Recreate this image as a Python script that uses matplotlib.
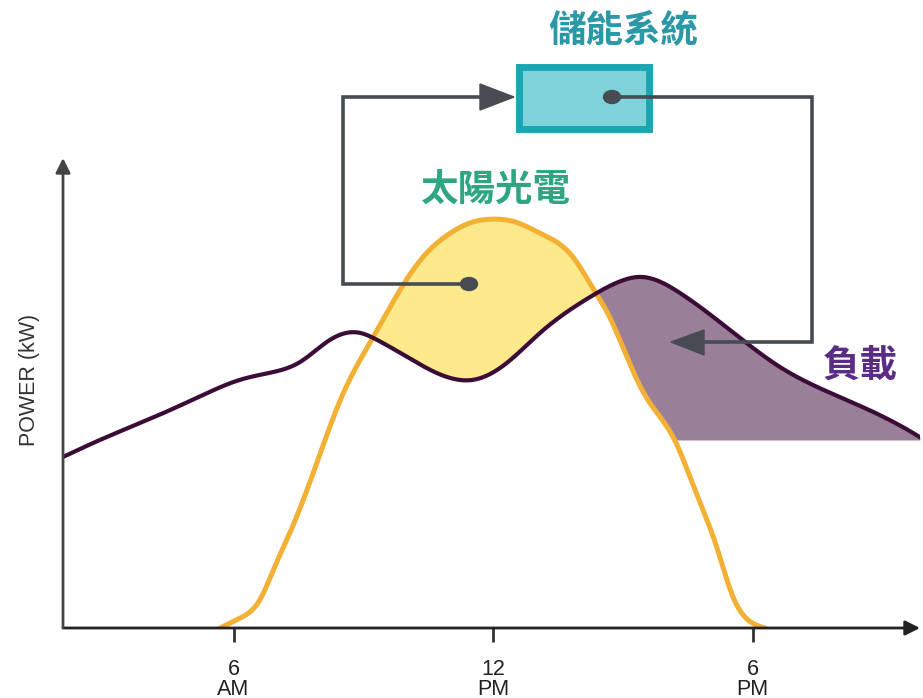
import numpy as np
import matplotlib
matplotlib.use("Agg")
import matplotlib.pyplot as plt
from matplotlib.patches import Rectangle, Polygon, Ellipse

plt.rcParams['font.family'] = ['Liberation Sans', 'DejaVu Sans']

# ---------------- data (hours of day, relative kW) ----------------
load_hours = [2.06, 2.91, 4.07, 5.23, 6.15, 6.84, 7.54, 8.23, 8.92, 9.32, 10.01, 11.01,
              11.54, 12.32, 13.09, 14.24, 15.01, 15.40, 16.32, 17.48, 18.64, 20.18, 21.71, 21.87]
load_kw = [36.4, 40.0, 44.5, 49.3, 52.8, 54.3, 56.6, 61.3, 62.8, 61.3, 57.7, 53.2,
           52.8, 56.4, 62.8, 70.4, 74.0, 74.7, 71.3, 63.4, 55.5, 48.5, 41.5, 40.6]

solar_hours = [5.69, 6.15, 6.61, 6.96, 7.31, 7.61, 8.00, 8.46, 9.23, 9.85, 10.38, 11.01,
               11.47, 12.00, 12.51, 13.09, 13.85, 14.31, 14.64, 15.05, 15.51, 16.21,
               16.62, 17.18, 17.55, 17.83, 18.29]
solar_kw = [0.0, 2.1, 6.0, 13.2, 20.4, 27.2, 37.0, 48.3, 61.9, 71.9, 78.9, 84.0,
            86.2, 87.0, 86.4, 84.0, 78.9, 72.3, 67.2, 58.7, 49.6, 39.8,
            30.6, 17.0, 6.6, 2.3, 0.0]

base_level = 40.0  # lower edge of the shaded load area

tick_hours = [6, 12, 18]
tick_labels = ["6\nAM", "12\nPM", "6\nPM"]

title_storage = "儲能系統"
title_solar = "太陽光電"
title_load = "負載"
ylabel = "POWER (kW)"


def spline(x, y, xn):
    """Natural cubic spline through the read points (for smooth drawing)."""
    x = np.asarray(x, float); y = np.asarray(y, float)
    n = len(x)
    h = np.diff(x)
    A = np.zeros((n, n)); b = np.zeros(n)
    A[0, 0] = A[-1, -1] = 1
    for i in range(1, n - 1):
        A[i, i - 1] = h[i - 1]
        A[i, i] = 2 * (h[i - 1] + h[i])
        A[i, i + 1] = h[i]
        b[i] = 3 * ((y[i + 1] - y[i]) / h[i] - (y[i] - y[i - 1]) / h[i - 1])
    c = np.linalg.solve(A, b)
    bb = (y[1:] - y[:-1]) / h - h * (2 * c[:-1] + c[1:]) / 3
    d = (c[1:] - c[:-1]) / (3 * h)
    idx = np.clip(np.searchsorted(x, xn) - 1, 0, n - 2)
    t = xn - x[idx]
    return y[idx] + bb[idx] * t + c[idx] * t**2 + d[idx] * t**3


W, H = 923, 698
fig = plt.figure(figsize=(W / 100, H / 100), dpi=100)

px_per_h = 43.25
x_left = 12 - (493 - 63) / px_per_h
x_right = 12 + (920 - 493) / px_per_h
ax = fig.add_axes([63 / W, (H - 628) / H, (920 - 63) / W, (628 - 158) / H])
ax.set_xlim(x_left, x_right)
ax.set_ylim(0, 100)
for s in ax.spines.values():
    s.set_visible(False)
ax.set_yticks([])
ax.set_xticks(tick_hours)
ax.set_xticklabels(tick_labels, fontsize=15.5, color="#222222", linespacing=0.95)
ax.tick_params(axis='x', length=10, width=2, color="#333333", direction='out', pad=12)

xs = np.linspace(load_hours[0], load_hours[-1], 3000)
load_s = spline(load_hours, load_kw, xs)
inside = (xs >= solar_hours[0]) & (xs <= solar_hours[-1])
sol_s = np.where(inside, np.clip(spline(solar_hours, solar_kw,
                                        np.clip(xs, solar_hours[0], solar_hours[-1])), 0, None), 0.0)

# fills
ax.fill_between(xs, load_s, sol_s, where=sol_s > load_s, interpolate=True,
                color="#fbe98c", lw=0, zorder=1)
lower = np.maximum(sol_s, base_level)
ax.fill_between(xs, lower, load_s, where=(load_s > lower) & (xs > 13.5), interpolate=True,
                color="#9a7f99", lw=0, zorder=1)

# curves
xsol = np.linspace(solar_hours[0], solar_hours[-1], 1500)
ax.plot(xsol, np.clip(spline(solar_hours, solar_kw, xsol), 0, None), color="#f2b134", lw=3.6,
        solid_capstyle='round', zorder=3)
ax.plot(xs, load_s, color="#3b0c37", lw=3.0, zorder=4)

# axes with arrows
ax.annotate("", xy=(1.0, 0), xytext=(0, 0), xycoords='axes fraction',
            arrowprops=dict(arrowstyle='-|>', color="#222222", lw=2, mutation_scale=22,
                            shrinkA=0, shrinkB=0), annotation_clip=False, zorder=5)
ax.annotate("", xy=(0, 1.0), xytext=(0, 0), xycoords='axes fraction',
            arrowprops=dict(arrowstyle='-|>', color="#444444", lw=2, mutation_scale=22,
                            shrinkA=0, shrinkB=0), annotation_clip=False, zorder=5)

fig.text(30 / W, 1 - 380 / H, ylabel, rotation=90, ha='center', va='center',
         fontsize=15.5, color="#333333")

# ---------------- overlay diagram (pixel layout) ----------------
ov = fig.add_axes([0, 0, 1, 1])
ov.set_xlim(0, W)
ov.set_ylim(H, 0)
ov.axis('off')
ov.patch.set_alpha(0)

gray = "#474b52"
# box
ov.add_patch(Rectangle((518.5, 66.5), 130, 62, facecolor="#7fd3db", edgecolor="#1aa6b2", lw=5))
# left connector: dot in solar area -> box
ov.plot([468, 343, 343, 482], [284, 284, 97, 97], color=gray, lw=2.6, solid_joinstyle='miter')
ov.add_patch(Polygon([[514, 97], [480, 84], [480, 110]], closed=True, color=gray))
ov.add_patch(Ellipse((469, 284), 17, 13, color=gray))
# right connector: box -> load area
ov.plot([612, 812, 812, 700], [97, 97, 342, 342], color=gray, lw=2.6, solid_joinstyle='miter')
ov.add_patch(Ellipse((612, 97), 17, 13, color=gray))
ov.add_patch(Polygon([[671, 342], [704, 330], [704, 355]], closed=True, color=gray))

cjk = ['Noto Sans CJK TC', 'DejaVu Sans']
ov.text(623, 30, title_storage, ha='center', va='center', fontsize=27, fontweight='bold',
        color="#2a98a6", family=cjk)
ov.text(495, 189, title_solar, ha='center', va='center', fontsize=27, fontweight='bold',
        color="#2ea682", family=cjk)
ov.text(860, 366, title_load, ha='center', va='center', fontsize=27, fontweight='bold',
        color="#5a2c88", family=cjk)

fig.savefig("out.png", dpi=100)
